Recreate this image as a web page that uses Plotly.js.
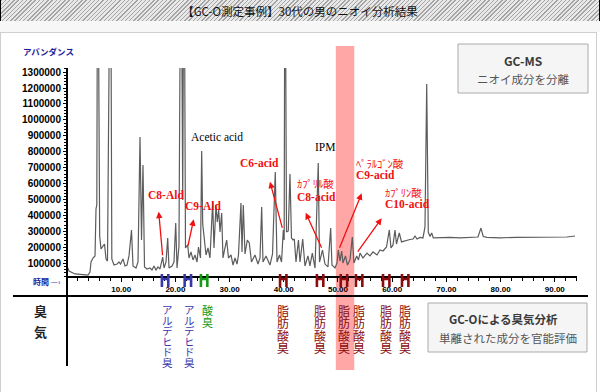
<!DOCTYPE html>
<html><head><meta charset="utf-8">
<script src="https://cdn.plot.ly/plotly-3.0.1.min.js"></script>
<style>
html,body{margin:0;padding:0;background:#fff;}
#frame{position:relative;width:600px;height:392px;overflow:hidden;}
#band{position:absolute;left:0;top:0;width:600px;height:21px;box-sizing:border-box;border-left:1px solid #000;border-right:1px solid #000;background:repeating-linear-gradient(135deg,#a4a4a4 0px,#a4a4a4 1px,#e8e8e8 1px,#e8e8e8 3px);}
#gap{position:absolute;left:0;top:21px;width:600px;height:11px;background:#f7f7f7;}
#panel{position:absolute;left:0;top:32px;width:597px;height:400px;box-sizing:border-box;border:1px solid #cfcfcf;background:#fff;}
#chart{position:absolute;left:0;top:0;width:600px;height:392px;}
</style></head>
<body><div id="frame"><div id="band"></div><div id="gap"></div><div id="panel"></div><div id="chart"></div></div>
<script>
// ---- data ----
const retentionTime = [0.00,0.37,1.48,3.87,4.24,4.43,4.80,5.17,5.35,5.50,
5.66,6.03,6.27,6.64,6.92,7.20,7.47,8.03,8.27,8.67,
9.23,9.59,9.87,10.33,10.70,11.07,11.44,11.90,12.18,12.73,
13.10,13.47,13.75,14.02,14.30,14.76,15.31,15.68,16.05,16.42,
16.79,17.16,17.66,17.90,18.27,18.58,18.82,19.37,19.74,20.06,
20.30,20.66,21.03,21.35,21.59,21.86,22.27,22.51,22.88,23.25,
23.62,23.99,24.26,24.63,24.85,25.04,25.28,25.65,26.01,26.38,
26.88,27.12,27.49,27.73,27.99,28.23,28.54,28.78,29.06,29.46,
29.80,30.26,30.63,31.00,31.37,31.64,32.10,32.29,32.53,32.84,
33.27,33.63,34.04,34.69,35.24,35.61,35.92,36.16,36.72,37.45,
37.92,38.43,38.75,39.21,39.58,39.91,40.07,40.22,40.50,40.83,
41.14,41.42,41.70,41.94,42.25,42.71,42.99,43.49,43.91,44.46,
44.83,45.26,45.76,46.36,46.59,47.14,47.60,48.15,48.65,48.89,
49.45,49.82,50.06,50.37,50.68,50.92,51.38,51.75,52.21,52.64,
52.95,53.45,53.78,54.06,54.61,55.35,55.90,56.46,57.20,57.75,
58.30,58.95,59.47,59.78,60.15,60.52,60.79,61.31,61.72,62.68,
63.28,63.84,64.21,64.58,65.13,65.68,66.05,66.37,66.66,66.97,
67.29,67.58,68.82,70.66,72.51,74.35,75.83,76.38,76.80,77.49,
79.89,83.03,85.98,89.11,92.25,93.73];
const abundance = [83000,51000,33000,26000,45000,108000,133000,146000,441000,466000,
2500000,271000,190000,208000,221000,127000,114000,2500000,127000,89000,
95000,108000,95000,127000,83000,89000,146000,309000,83000,70000,
108000,893000,246000,717000,77000,64000,70000,58000,83000,58000,
77000,64000,139000,70000,108000,259000,70000,83000,108000,353000,
70000,208000,2500000,497000,2500000,196000,215000,133000,171000,121000,
152000,108000,202000,133000,805000,347000,284000,152000,196000,133000,
485000,196000,466000,359000,434000,296000,416000,133000,183000,246000,
133000,152000,89000,133000,95000,152000,478000,171000,466000,158000,
246000,227000,108000,152000,95000,133000,453000,108000,146000,89000,
158000,673000,108000,152000,108000,309000,246000,2500000,296000,303000,
660000,259000,246000,252000,108000,246000,108000,252000,83000,146000,
83000,164000,70000,729000,108000,183000,95000,77000,321000,89000,
70000,102000,183000,114000,177000,102000,146000,89000,121000,265000,
102000,146000,121000,164000,133000,164000,146000,171000,152000,183000,
177000,202000,309000,196000,215000,309000,221000,290000,234000,246000,
249000,252000,271000,252000,262000,259000,328000,1225000,296000,268000,
290000,259000,262000,262000,260000,262000,265000,321000,268000,263000,
260000,263000,264000,265000,265000,271000];

const xTickVals = [10,20,30,40,50,60,70,80,90];
const odorTimes = [18.1,22.3,25.3,39.9,46.7,51.1,53.9,58.9,62.4];
const odorTypes = ['アルデヒド臭','アルデヒド臭','酸臭','脂肪酸臭','脂肪酸臭','脂肪酸臭','脂肪酸臭','脂肪酸臭','脂肪酸臭'];
const highlightRange = [49.6,53.0];
const compoundNames = ['C8-Ald','C9-Ald','C6-acid','C8-acid','C9-acid','C10-acid'];
const compoundKana  = ['','','','ｶﾌﾟﾘﾙ酸','ﾍﾟﾗﾙｺﾞﾝ酸','ｶﾌﾟﾘﾝ酸'];
const otherNames = ['Acetic acid','IPM'];
const title = '【GC-O測定事例】30代の男のニオイ分析結果';

// ---- layout helpers (pixel -> paper) ----
const L=67, T=68, PW=510, PH=208;
const pxX = px => (px-L)/PW;
const pxY = py => (T+PH-py)/PH;

const JP='Noto Sans CJK JP, Noto Sans, sans-serif';
const SERIF='Liberation Serif, DejaVu Serif, serif';
const RED='#f01010';

const odorStyle = {
 'アルデヒド臭':{color:'#3737ad', size:10.5, pitch:10.6, dx:2},
 '酸臭':{color:'#159a15', size:11, pitch:11.5, dx:3},
 '脂肪酸臭':{color:'#8b0c0c', size:12, pitch:12.3, dx:0}
};

const shapes = [];
const annotations = [];

// highlighted band
shapes.push({type:'rect', xref:'x', yref:'paper', x0:highlightRange[0], x1:highlightRange[1],
  y0:pxY(370), y1:pxY(46), fillcolor:'#ffa6a6', line:{width:0}, layer:'below'});
// boxes
shapes.push({type:'rect', xref:'paper', yref:'paper', x0:pxX(458), x1:pxX(588), y0:pxY(93), y1:pxY(44),
  fillcolor:'#f5f5f5', line:{color:'#aaaaaa', width:1}, layer:'below'});
shapes.push({type:'rect', xref:'paper', yref:'paper', x0:pxX(428), x1:pxX(587), y0:pxY(352), y1:pxY(303),
  fillcolor:'#f5f5f5', line:{color:'#aaaaaa', width:1}, layer:'below'});
// frame lines
shapes.push({type:'line', xref:'paper', yref:'paper', x0:pxX(13), x1:pxX(588), y0:pxY(296), y1:pxY(296),
  line:{color:'#000', width:2}, layer:'above'});
shapes.push({type:'line', xref:'paper', yref:'paper', x0:pxX(67), x1:pxX(67), y0:pxY(68), y1:pxY(366),
  line:{color:'#000', width:2}, layer:'above'});

// GC-O markers ("H") and vertical odor labels (one stacked text per label)
odorTimes.forEach((t,i)=>{
  const st = odorStyle[odorTypes[i]];
  shapes.push({type:'path', xref:'x', yref:'paper', xsizemode:'pixel', ysizemode:'pixel',
    xanchor:t, yanchor:pxY(280.5),
    path:'M-3.2,-6.5 L-3.2,6.5 M3.2,-6.5 L3.2,6.5 M-3.2,1.5 L3.2,1.5',
    line:{color:st.color, width:2.6}, layer:'above'});
  const stacked = [...odorTypes[i]].map(ch=>'<span style="font-size:'+st.size+'px">'+ch+'</span>').join('<br>');
  annotations.push({xref:'x', yref:'paper', x:t, xshift:st.dx, y:pxY(301), yanchor:'top', xanchor:'center',
    text:stacked, showarrow:false, borderpad:0, align:'center',
    font:{family:JP, size:st.pitch/1.3, color:st.color}});
});

// axis-side labels
annotations.push({xref:'paper', yref:'paper', x:pxX(21), y:pxY(51), xanchor:'left', yanchor:'middle',
  text:'<b>アバンダンス</b>', showarrow:false, font:{family:JP, size:8.5, color:'#1c1c9c'}});
annotations.push({xref:'paper', yref:'paper', x:pxX(31), y:pxY(281), xanchor:'left', yanchor:'middle',
  text:'<b>時間</b> —›', showarrow:false, font:{family:JP, size:8, color:'#1c1c9c'}});
annotations.push({xref:'paper', yref:'paper', x:pxX(40), y:pxY(310), xanchor:'center', yanchor:'middle',
  text:'<b>臭</b>', showarrow:false, font:{family:JP, size:13, color:'#222'}});
annotations.push({xref:'paper', yref:'paper', x:pxX(40), y:pxY(331), xanchor:'center', yanchor:'middle',
  text:'<b>気</b>', showarrow:false, font:{family:JP, size:13, color:'#222'}});
// boxes text
annotations.push({xref:'paper', yref:'paper', x:pxX(523), y:pxY(61), xanchor:'center', yanchor:'middle',
  text:'<b>GC-MS</b>', showarrow:false, font:{family:JP, size:12, color:'#3a3a3a'}});
annotations.push({xref:'paper', yref:'paper', x:pxX(523), y:pxY(79), xanchor:'center', yanchor:'middle',
  text:'ニオイ成分を分離', showarrow:false, font:{family:JP, size:11.5, color:'#555'}});
annotations.push({xref:'paper', yref:'paper', x:pxX(503), y:pxY(319), xanchor:'center', yanchor:'middle',
  text:'<b>GC-Oによる臭気分析</b>', showarrow:false, font:{family:JP, size:11.5, color:'#3a3a3a'}});
annotations.push({xref:'paper', yref:'paper', x:pxX(508), y:pxY(338), xanchor:'center', yanchor:'middle',
  text:'単離された成分を官能評価', showarrow:false, font:{family:JP, size:11.5, color:'#555'}});

// peak labels
annotations.push({x:27.68, y:893000, text:otherNames[0], showarrow:false, xanchor:'center', yanchor:'middle',
  font:{family:SERIF, size:11.5, color:'#000'}});
annotations.push({x:47.6, y:830000, text:otherNames[1], showarrow:false, xanchor:'center', yanchor:'middle',
  font:{family:SERIF, size:11.5, color:'#000'}});
const labelPos = [
  {x:18.27, y:529000, a:'center'},
  {x:25.18, y:459000, a:'center'},
  {x:35.6, y:729000, a:'center'},
  {x:42.1, y:516000, a:'left', ky:598000},
  {x:53.0, y:654000, a:'left', ky:729000},
  {x:58.35, y:472000, a:'left', ky:547000}
];
const arrows = [
  [16.92,424000,17.66,141000],
  [23.38,376000,22.27,202000],
  [37.45,612000,39.80,313000],
  [44.04,417000,47.10,188000],
  [54.37,539000,50.18,188000],
  [58.06,382000,53.45,163000]
];
compoundNames.forEach((n,i)=>{
  const p = labelPos[i];
  annotations.push({x:p.x, y:p.y, text:'<b>'+n+'</b>', showarrow:false, xanchor:p.a, yanchor:'middle',
    font:{family:SERIF, size:11.5, color:RED}});
  if (compoundKana[i]) {
    annotations.push({x:p.x, y:p.ky, text:compoundKana[i], showarrow:false, xanchor:p.a, yanchor:'middle',
      font:{family:JP, size:10.5, color:RED}});
  }
  const a = arrows[i];
  annotations.push({x:a[0], y:a[1], ax:a[2], ay:a[3], axref:'x', ayref:'y', text:'', showarrow:true,
    arrowhead:2, arrowsize:1, arrowwidth:1.3, arrowcolor:RED, standoff:0, startstandoff:0});
});

const trace = {x:retentionTime, y:abundance, type:'scatter', mode:'lines',
  line:{color:'#5c5c5c', width:1.2}, hoverinfo:'skip'};

const layout = {
  width:600, height:392,
  margin:{l:L, r:600-L-PW, t:T, b:392-T-PH, pad:0},
  paper_bgcolor:'rgba(0,0,0,0)', plot_bgcolor:'rgba(0,0,0,0)',
  showlegend:false,
  title:{text:title, x:0.5, xanchor:'center', y:1-12/392, yanchor:'middle',
    font:{family:JP, size:11.5, color:'#111'}},
  xaxis:{range:[0,94.1], showline:true, linecolor:'#000', linewidth:2, mirror:false,
    ticks:'outside', ticklen:4, tickwidth:1, tickcolor:'#000',
    tickmode:'array', tickvals:xTickVals, ticktext:xTickVals.map(v=>v.toFixed(2)),
    tickfont:{family:'Liberation Sans, Arial, sans-serif', size:8, color:'#000', weight:'bold'},
    showgrid:false, zeroline:false, fixedrange:true,
    minor:{dtick:2, tick0:0, ticks:'outside', ticklen:3, tickwidth:1, tickcolor:'#000', showgrid:false}},
  yaxis:{range:[20000,1326000], showline:false, ticks:'outside', ticklen:3, tickwidth:1, tickcolor:'#000',
    tick0:0, dtick:100000, tickformat:'d',
    tickfont:{family:'Liberation Sans, Arial, sans-serif', size:10, color:'#000', weight:'bold'},
    showgrid:false, zeroline:false, fixedrange:true,
    minor:{dtick:20000, tick0:0, ticks:'outside', ticklen:2, tickwidth:1, tickcolor:'#000', showgrid:false}},
  shapes:shapes, annotations:annotations
};

Plotly.newPlot('chart', [trace], layout, {staticPlot:true, displayModeBar:false});
</script>
</body></html>
